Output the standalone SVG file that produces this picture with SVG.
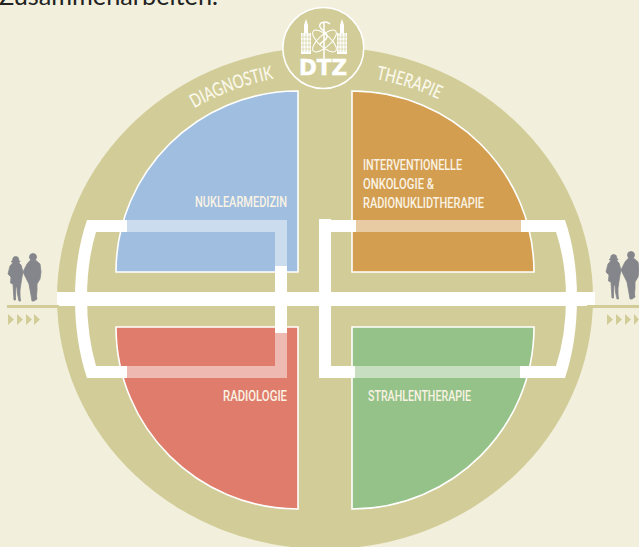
<svg xmlns="http://www.w3.org/2000/svg" width="639" height="547" viewBox="0 0 639 547">
<style>
.lab{font-family:Roboto,"Liberation Sans",sans-serif;font-weight:500;font-size:14.500px;fill:#faf3e4}
.cur{font-family:Lato,"Liberation Sans",sans-serif;font-weight:500;font-size:19px;fill:#fbf9ec}
.q{stroke:#fff;stroke-width:1.600}
.w{fill:#fff}
.t{fill:#fff;fill-opacity:.47}
.g{fill:#d2cd98}
.p{fill:#85868b;stroke:#85868b;stroke-width:.8}
.win{fill:none;stroke:#d2cd98;stroke-width:.6}
</style>
<defs>
<path id="arcL" d="M185 114A245 224 0 0 1 285 77"/>
<path id="arcR" d="M370 78A245 224 0 0 1 470 117"/>
<g id="couple">
<circle cx="15.700" cy="259.500" r="3"/><ellipse cx="15.700" cy="261.500" rx="4.500" ry="1"/>
<path d="M13.500 262L18 262 21 265 23 272 22 277 21 283 20 290 20 296 20.500 301 19 301 17.500 294 17 287 16 287 15.500 295 15.500 300 14 300 13.500 292 13 284 10.500 283 11 277 8 274 10 266Z"/>
<circle cx="33" cy="257" r="3.500"/>
<path d="M30 260.500L36 260.500 40 264 41 272 40 279 37 284 37 290 36.500 296 37 299 34 301 32 301 31 295 29 284 26 278 23 272 27 264Z"/>
</g>
</defs>
<rect width="639" height="547" fill="#f2efdc"/>
<text x="-1" y="5" font-family="Lato,'Liberation Sans',sans-serif" font-size="25" fill="#222" textLength="219" lengthAdjust="spacingAndGlyphs">Zusammenarbeiten.</text>
<ellipse cx="325" cy="298" rx="268" ry="251" class="g"/>
<g id="q-nuklearmedizin"><path class="q" fill="#9fbee0" d="M298 91V272H116C116 172 198 91 298 91Z"/><text class="lab" x="195" y="207" textLength="92" lengthAdjust="spacingAndGlyphs">NUKLEARMEDIZIN</text></g>
<g id="q-intervention"><path class="q" fill="#d39e50" d="M352 91V272H534C534 172 452 91 352 91Z"/><text class="lab" x="363" y="170" textLength="99" lengthAdjust="spacingAndGlyphs">INTERVENTIONELLE</text><text class="lab" x="363" y="189" textLength="71" lengthAdjust="spacingAndGlyphs">ONKOLOGIE &amp;</text><text class="lab" x="363" y="208" textLength="121" lengthAdjust="spacingAndGlyphs">RADIONUKLIDTHERAPIE</text></g>
<g id="q-radiologie"><path class="q" fill="#df7c6b" d="M298 509V327H116C116 428 198 509 298 509Z"/><text class="lab" x="223" y="401" textLength="64" lengthAdjust="spacingAndGlyphs">RADIOLOGIE</text></g>
<g id="q-strahlen"><path class="q" fill="#95c288" d="M352 509V327H534C534 428 452 509 352 509Z"/><text class="lab" x="368" y="401" textLength="103" lengthAdjust="spacingAndGlyphs">STRAHLENTHERAPIE</text></g>
<g id="connectors">
<path class="t" d="M127 220H287V266H275V232H127Z"/>
<path class="t" d="M127 366H275V333H287V378H127Z"/>
<rect class="t" x="356" y="220" width="165" height="12"/>
<rect class="t" x="355" y="366" width="165" height="12"/>
<rect class="w" x="57" y="292" width="538" height="14"/>
<path class="w" d="M127 220H87Q75 255 75 298Q75 342 87 378H127V366H96Q87 335 87 298Q87 262 96 232H127Z"/>
<path class="w" d="M521 220H565Q577 255 577 298Q577 342 565 378H520V366H556Q566 335 566 298Q566 262 556 232H521Z"/>
<rect class="w" x="275" y="266" width="12" height="67"/>
<path class="w" d="M319 219H331V220H356V232H331V366H355V378H319Z"/>
</g>
<g id="logo">
<circle cx="323.300" cy="48" r="40.500" class="g" stroke="#fff" stroke-width="1.600"/>
<path class="w" d="M301 54V33H304V25L306 19 308 25V33H311V54Z"/>
<path class="w" d="M337 54V33H340V25L342 19 344 25V33H347V54Z"/>
<path class="win" d="M303 33V52M306 33V52M309 33V52M301 37H311M301 41H311M301 45H311M301 49H311M339 33V52M342 33V52M345 33V52M337 37H347M337 41H347M337 45H347M337 49H347"/>
<path d="M330 24C325 20 318 23 320 27C322 31 328 33 327 37C326 41 320 42 320 45M324 22V60" fill="none" stroke="#fff" stroke-width="1.500"/>
<g fill="none" stroke="#fff" stroke-width="1"><ellipse cx="324.500" cy="41" rx="15" ry="6" transform="rotate(42 324.500 41)"/><ellipse cx="324.500" cy="41" rx="15" ry="6" transform="rotate(-42 324.500 41)"/></g>
<text x="299" y="75" font-family="'DejaVu Sans',sans-serif" font-weight="700" font-size="20.500" fill="#fff" stroke="#fff" stroke-width=".5" textLength="48" lengthAdjust="spacingAndGlyphs">DTZ</text>
</g>
<g id="arc-labels">
<text class="cur"><textPath href="#arcL" startOffset="11" textLength="85" lengthAdjust="spacingAndGlyphs">DIAGNOSTIK</textPath></text>
<text class="cur"><textPath href="#arcR" startOffset="6" textLength="66" lengthAdjust="spacingAndGlyphs">THERAPIE</textPath></text>
</g>
<g id="people-left">
<use href="#couple" class="p"/>
<rect class="g" x="7" y="305" width="52" height="3"/>
<path class="g" d="M8 314l6 5.500-6 5.500ZM17 314l6 5.500-6 5.500ZM26 314l6 5.500-6 5.500ZM34 314l6 5.500-6 5.500Z"/>
</g>
<g id="people-right">
<use href="#couple" class="p" x="598" y="-2"/>
<rect class="g" x="587" y="305" width="52" height="3"/>
<path class="g" d="M607 314l6 5.500-6 5.500ZM616 314l6 5.500-6 5.500ZM625 314l6 5.500-6 5.500ZM634 314l5 5.500-5 5.500Z"/>
</g>
</svg>
